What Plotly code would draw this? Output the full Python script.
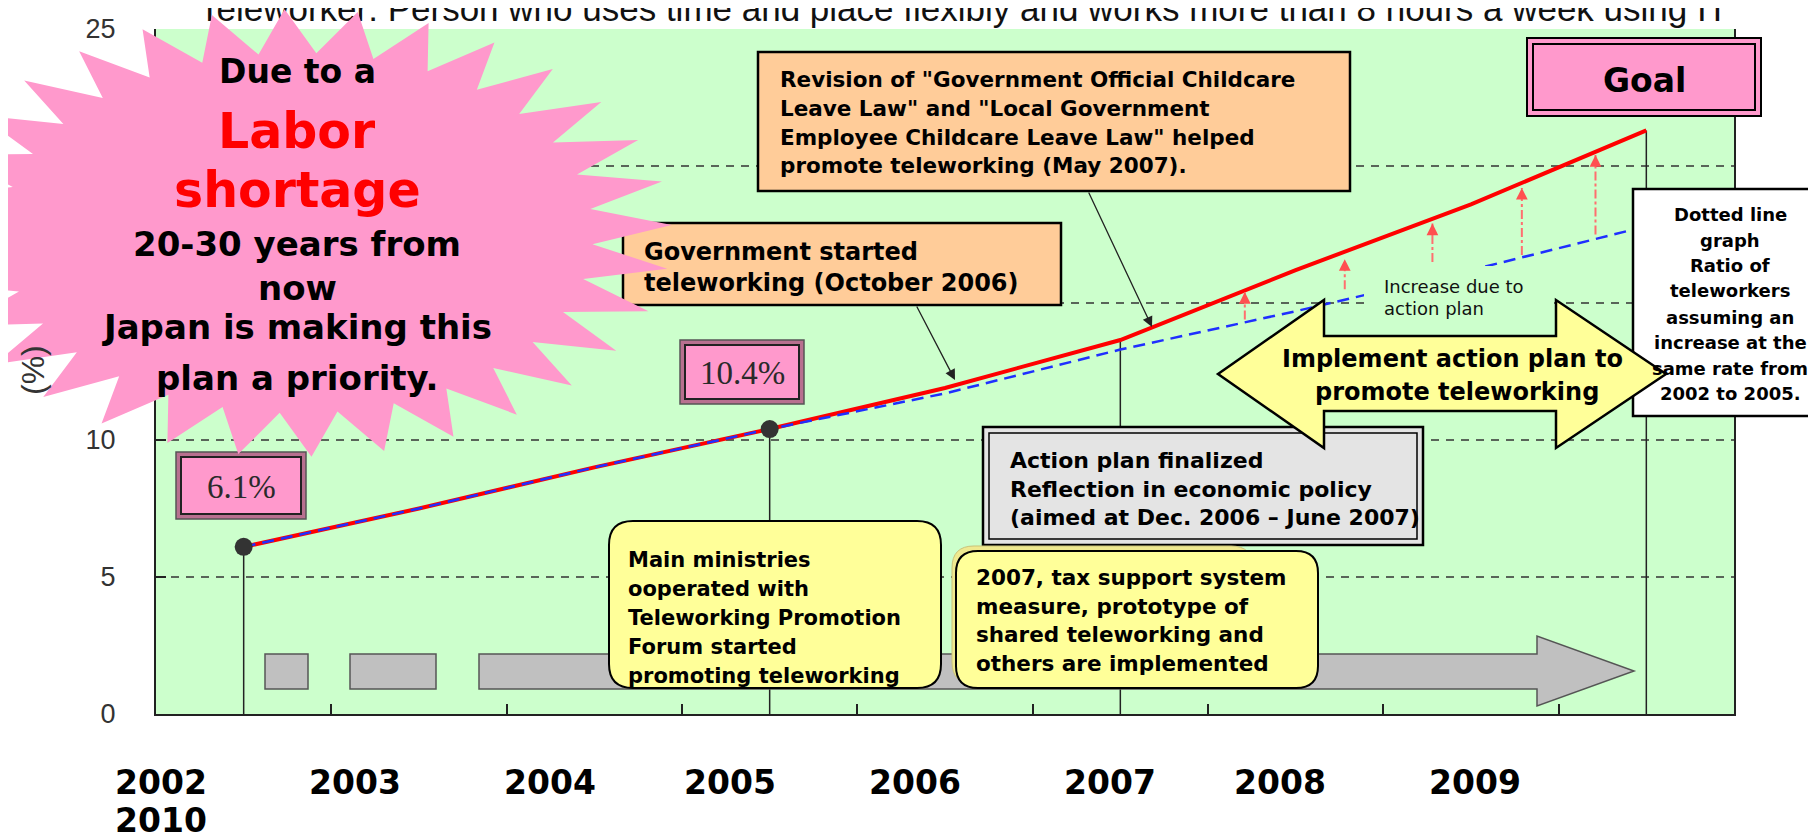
import math
import plotly.graph_objects as go

# ---------------- data ----------------
years = [2002, 2003, 2004, 2005, 2006, 2007, 2008, 2009, 2010]
plan_ratio = [6.1, 7.5, 9.0, 10.4, 11.9, 13.65, 16.2, 18.6, 21.3]      # red line (with action plan)
trend_ratio = [6.1, 7.5, 9.0, 10.4, 11.7, 13.3, 14.7, 16.2, 17.8]     # blue dashed (2002-2005 pace)
marked_years = [2002, 2005]
marked_values = [6.1, 10.4]
marked_labels = ["6.1%", "10.4%"]
event_years = [2002, 2005, 2007, 2010]
year_labels = ["2002", "2003", "2004", "2005", "2006", "2007", "2008", "2009", "2010"]
y_ticks = [0, 5, 10, 15, 20, 25]
y_tick_text = ["0", "5", "10", "", "", "25"]   # 15 and 20 are hidden behind the starburst
y_grid = [5, 10, 15, 20]
boundary_ticks = [2002.5, 2003.5, 2004.5, 2005.5, 2006.5, 2007.5, 2008.5, 2009.5]
increase_x = [2007.71, 2008.28, 2008.78, 2009.29, 2009.71]
increase_from = [14.4, 15.5, 16.5, 16.75, 17.5]
increase_to = [15.4, 16.6, 17.9, 19.2, 20.4]
definition = "Teleworker: Person who uses time and place flexibly and works more than 8 hours a week using IT"

# ---------------- layout geometry (pixels) ----------------
W, H = 1816, 834
L, R, T, B = 148, 1726, 21, 706
XS = (R - L) / 9.0


def px_(x):
    return (x - L) / (R - L)


def py_(y):
    return (B - y) / (B - T)


def dx(x):
    return 2001.5 + (x - L) / XS


def rect(x0, y0, x1, y1, fill, line="#000", lw=2):
    return dict(type="rect", xref="paper", yref="paper", x0=px_(x0), x1=px_(x1),
                y0=py_(y1), y1=py_(y0), fillcolor=fill,
                line=dict(color=line, width=lw), layer="above")


def poly(points, fill, line="#000", lw=2):
    d = "M " + " L ".join(f"{px_(x):.5f},{py_(y):.5f}" for x, y in points) + " Z"
    return dict(type="path", xref="paper", yref="paper", path=d, fillcolor=fill,
                line=dict(color=line, width=lw), layer="above")


def rrect(x0, y0, x1, y1, r, fill, line="#000", lw=2):
    def p(x, y):
        return f"{px_(x):.5f},{py_(y):.5f}"
    d = (f"M {p(x0 + r, y0)} L {p(x1 - r, y0)} Q {p(x1, y0)} {p(x1, y0 + r)} "
         f"L {p(x1, y1 - r)} Q {p(x1, y1)} {p(x1 - r, y1)} L {p(x0 + r, y1)} "
         f"Q {p(x0, y1)} {p(x0, y1 - r)} L {p(x0, y0 + r)} Q {p(x0, y0)} {p(x0 + r, y0)} Z")
    return dict(type="path", xref="paper", yref="paper", path=d, fillcolor=fill,
                line=dict(color=line, width=lw), layer="above")


def line_text(s, x, base, size, anchor="left", color="#000", weight=700,
              family="DejaVu Sans"):
    return dict(text=s, x=px_(x), y=py_(base - 0.35 * size), xref="paper", yref="paper",
                xanchor=anchor, yanchor="middle", showarrow=False,
                font=dict(family=family, size=size, color=color, weight=weight))


fig = go.Figure()

# definition line at the very top (a text mark, so the starburst can cover it)
fig.add_trace(go.Scatter(x=[dx(191)], y=[24.99], mode="text", text=[definition],
                         textposition="top right", cliponaxis=False, hoverinfo="skip",
                         textfont=dict(family="Liberation Sans", size=35, color="#111")))

# vertical event lines
for yr in event_years:
    v = plan_ratio[years.index(yr)]
    fig.add_trace(go.Scatter(x=[yr, yr], y=[0, v], mode="lines",
                             line=dict(color="#222", width=1.5), hoverinfo="skip"))

# lines
fig.add_trace(go.Scatter(x=years, y=plan_ratio, mode="lines",
                         line=dict(color="#ff0000", width=4), name="plan"))
fig.add_trace(go.Scatter(x=years, y=trend_ratio, mode="lines",
                         line=dict(color="#1f2fff", width=2.5, dash="12px,7px"), name="trend"))

# increase arrows (dash-dot)
for xi, a, b in zip(increase_x, increase_from, increase_to):
    fig.add_trace(go.Scatter(x=[xi, xi], y=[a, b], mode="lines",
                             line=dict(color="#ff6f6f", width=2, dash="dashdot"),
                             hoverinfo="skip"))

# marked points
fig.add_trace(go.Scatter(x=marked_years, y=marked_values, mode="markers",
                         marker=dict(color="#333333", size=18)))

shapes = []
# dashed grid
for g in y_grid:
    shapes.append(dict(type="line", xref="paper", yref="y", x0=0, x1=1, y0=g, y1=g,
                       line=dict(color="#333", width=1.5, dash="8px,7px"), layer="below"))

# timeline gray bars
shapes.append(rect(257, 646, 300, 681, "#c0c0c0", "#555", 1.5))
shapes.append(rect(342, 646, 428, 681, "#c0c0c0", "#555", 1.5))
shapes.append(poly([(471, 646), (1529, 646), (1529, 628), (1626, 663), (1529, 698),
                    (1529, 681), (471, 681)], "#c0c0c0", "#555", 1.5))

# value boxes
for (x0, y0, x1, y1) in [(168, 444, 298, 511), (672, 332, 796, 396)]:
    shapes.append(rect(x0, y0, x1, y1, "#b8708f", "#555", 1.5))
    shapes.append(rect(x0 + 5, y0 + 5, x1 - 5, y1 - 5, "#ff99cc", "#222", 2))

# orange boxes
shapes.append(rect(750, 44, 1342, 183, "#ffcc99", "#000", 2.5))
shapes.append(rect(615, 215, 1053, 297, "#ffcc99", "#000", 2.5))

# action plan box (double border)
shapes.append(rect(975, 419, 1415, 537, "#e4e4e4", "#000", 2.5))
shapes.append(rect(981, 425, 1409, 531, "rgba(0,0,0,0)", "#000", 1.5))

# yellow rounded boxes
shapes.append(rrect(601, 513, 933, 680, 24, "#ffff99", "#000", 2))
shapes.append(rrect(944, 538, 1245, 676, 22, "#efe98f", "#c9c27a", 1))
shapes.append(rrect(948, 543, 1310, 680, 22, "#ffff99", "#000", 2))

# green patch behind "Increase due to action plan"
shapes.append(dict(type="rect", xref="paper", yref="paper", x0=px_(1356), x1=px_(1546),
                   y0=py_(322), y1=py_(258), fillcolor="#ccffcc", line=dict(width=0),
                   layer="above"))

# dotted-line explanation box
shapes.append(rect(1625, 181, 1814, 408, "#ffffff", "#000", 2.5))

# double arrow
shapes.append(poly([(1210, 366), (1316, 292), (1316, 328), (1548, 328), (1548, 292),
                    (1658, 366), (1548, 440), (1548, 403), (1316, 403), (1316, 440)],
                   "#ffff99", "#000", 2.5))

# goal box
shapes.append(rect(1519, 30, 1753, 108, "#ff99cc", "#000", 2))
shapes.append(rect(1525, 36, 1747, 102, "rgba(0,0,0,0)", "#000", 2))

# starburst
cx, cy, rxo, ryo, rxi, ryi, n = 290, 225, 374, 224, 295, 180, 32
pts = []
for k in range(n):
    t = -0.036 + 2 * math.pi * k / n
    pts.append((cx + rxo * math.cos(t), cy + ryo * math.sin(t)))
    t2 = t + math.pi / n
    pts.append((cx + rxi * math.cos(t2), cy + ryi * math.sin(t2)))
shapes.append(poly(pts, "#ff99cc", "#ff99cc", 0))

ann = []
# y label
ann.append(dict(text="(%)", x=px_(25), y=py_(362), xref="paper", yref="paper",
                xanchor="center", yanchor="middle", textangle=-90, showarrow=False,
                font=dict(family="Liberation Sans", size=32, color="#333")))
# year labels
year_pos = [(153, 774), (347, 774), (542, 774), (722, 774), (907, 774), (1102, 774),
            (1272, 774), (1467, 774), (153, 812)]
for lab, (x, y) in zip(year_labels, year_pos):
    ann.append(dict(text=lab, x=px_(x), y=py_(y), xref="paper", yref="paper",
                    xanchor="center", yanchor="middle", showarrow=False,
                    font=dict(family="DejaVu Sans", size=33, color="#000", weight=700)))

# value labels
for lab, (x, y) in zip(marked_labels, [(233, 479), (734, 365)]):
    ann.append(dict(text=lab, x=px_(x), y=py_(y), xref="paper", yref="paper",
                    xanchor="center", yanchor="middle", showarrow=False,
                    font=dict(family="Liberation Serif", size=33, color="#2a2a2a")))

# starburst text
for s, b, sz, col in [("Due to a", 75, 33, "#000"), ("Labor", 141, 49, "#ff0000"),
                      ("shortage", 200, 49, "#ff0000"), ("20-30 years from", 248, 34, "#000"),
                      ("now", 292, 34, "#000"), ("Japan is making this", 331, 34, "#000"),
                      ("plan a priority.", 382, 34, "#000")]:
    ann.append(line_text(s, 289, b, sz, anchor="center", color=col))

# revision box
for s, b in zip(['Revision of "Government Official Childcare',
                 'Leave Law" and "Local Government',
                 'Employee Childcare Leave Law" helped',
                 'promote teleworking (May 2007).'], [79, 108, 137, 165]):
    ann.append(line_text(s, 770, b, 21.5))
# government box
for s, b in zip(["Government started", "teleworking (October 2006)"], [252, 283]):
    ann.append(line_text(s, 634, b, 24))
# action plan box
for s, b in zip(["Action plan finalized", "Reflection in economic policy",
                 "(aimed at Dec. 2006 \u2013 June 2007)"], [460, 489, 517]):
    ann.append(line_text(s, 1000, b, 22))
# main ministries box
for s, b in zip(["Main ministries", "ooperated with", "Teleworking Promotion",
                 "Forum started", "promoting teleworking"], [559, 588, 617, 646, 675]):
    ann.append(line_text(s, 618, b, 21))
# tax box
for s, b in zip(["2007, tax support system", "measure, prototype of",
                 "shared teleworking and", "others are implemented"], [577, 606, 634, 663]):
    ann.append(line_text(s, 966, b, 21.5))
# increase text
for s, b in zip(["Increase due to", "action plan"], [285, 307]):
    ann.append(line_text(s, 1374, b, 18, weight=400, color="#111"))
# double arrow text
ann.append(line_text("Implement action plan to", 1444, 359, 24, anchor="center"))
ann.append(line_text("promote teleworking", 1449, 392, 24, anchor="center"))
# dotted line box text
for s, b in zip(["Dotted line", "graph", "Ratio of", "teleworkers", "assuming an",
                 "increase at the", "same rate from", "2002 to 2005."],
                [213, 239, 264, 289, 316, 341, 367, 392]):
    ann.append(line_text(s, 1722, b, 18, anchor="center"))
# goal
ann.append(line_text("Goal", 1636, 84, 33, anchor="center"))

# pointer arrows
for (hx, hy, tx, ty) in [(947, 372, 908, 297), (1144, 319, 1080, 183)]:
    ann.append(dict(text="", x=px_(hx), y=py_(hy), xref="paper", yref="paper",
                    ax=tx - hx, ay=ty - hy, showarrow=True, arrowhead=2, arrowsize=1.6,
                    arrowwidth=1.3, arrowcolor="#222"))
# heads for increase arrows
for xi, b in zip(increase_x, increase_to):
    ann.append(dict(text="", x=xi, y=b, xref="x", yref="y", ax=0, ay=12,
                    showarrow=True, arrowhead=2, arrowsize=1.3, arrowwidth=1.8,
                    arrowcolor="#ff5050"))

fig.update_layout(
    width=W, height=H, template="none",
    margin=dict(l=L, r=W - R, t=T, b=H - B, pad=0),
    paper_bgcolor="#ffffff", plot_bgcolor="#ccffcc", showlegend=False,
    shapes=shapes, annotations=ann,
    xaxis=dict(range=[2001.5, 2010.5], showgrid=False, zeroline=False, showline=True,
               linecolor="#222", linewidth=2, ticks="inside", tickvals=boundary_ticks,
               ticklen=10, tickwidth=1.5, tickcolor="#222", showticklabels=False,
               fixedrange=True),
    yaxis=dict(range=[0, 25], showgrid=False, zeroline=False, showline=True, mirror=True,
               linecolor="#222", linewidth=2, ticks="inside", tickvals=y_ticks,
               ticktext=y_tick_text, ticklen=10, tickwidth=1.5,
               tickcolor="#222", ticklabelstandoff=33,
               tickfont=dict(family="Liberation Sans", size=27, color="#333"),
               fixedrange=True),
)

fig.write_html("out.html")
